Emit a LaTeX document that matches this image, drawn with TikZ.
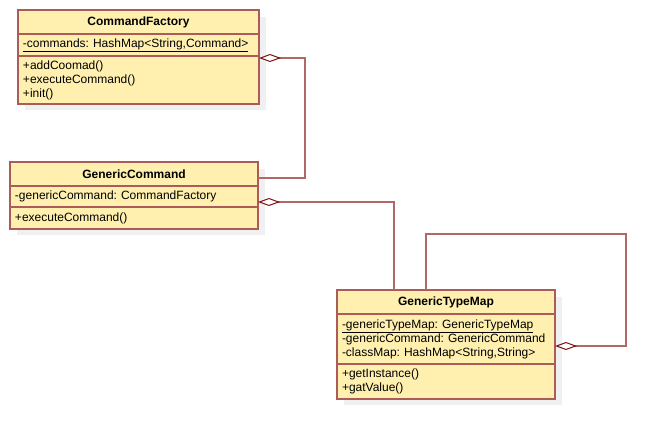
\documentclass[tikz,border=0pt]{standalone}
\usepackage{fontspec}
\setmainfont{Liberation Sans}
\usetikzlibrary{positioning, arrows.meta, fit, backgrounds}

\definecolor{umlfill}{RGB}{255,240,175}
\definecolor{umlborder}{RGB}{172,92,88}
\definecolor{umlline}{RGB}{176,104,104}
\definecolor{umldiamond}{RGB}{128,16,16}
\definecolor{umlshadow}{RGB}{240,240,240}

\begin{document}
\frenchspacing
\hyphenpenalty=10000
\fontsize{12}{14}\selectfont
\begin{tikzpicture}[
		x=1pt, y=-1pt,
		node distance=0pt,
		classhead/.style={draw=umlborder, line width=1.6pt, outer sep=0pt, fill=umlfill, font=\bfseries, minimum height=24pt, inner xsep=5pt, inner ysep=0pt, align=center},
		classpart/.style={draw=umlborder, line width=1.6pt, outer sep=0pt, fill=umlfill, minimum height=22pt, inner xsep=5pt, inner ysep=2pt, align=left},
		aggr/.style={draw=umlline, line width=1.5pt, {Diamond[open, length=22pt, width=8pt, color=umldiamond, line width=1pt]}-}
		]
		\useasboundingbox (0,0) rectangle (667,439);
		
		% ==========================================
		% CLASS: COMMANDFACTORY
		% ==========================================
		
		\node[classhead, text width=231pt, anchor=north west] (CFtitle) at (18,10) {CommandFactory};
		\node[classpart, text width=231pt, below=of CFtitle] (CFattr) {\underline{-commands: HashMap<String,Command>}};
		\node[classpart, text width=231pt, minimum height=48pt, below=of CFattr] (CFmeth) {
			+addCoomad() \\
			+executeCommand() \\
			+init()
		};
		
		% ==========================================
		% CLASS: GENERICCOMMAND
		% ==========================================
		
		\node[classhead, text width=238pt, anchor=north west] (GCtitle) at (10,162) {GenericCommand};
		\node[classpart, text width=238pt, minimum height=21pt, below=of GCtitle] (GCattr) {-genericCommand: CommandFactory};
		\node[classpart, text width=238pt, minimum height=22pt, below=of GCattr] (GCmeth) {+executeCommand()};
		
		% ==========================================
		% CLASS: GENERICTYPEMAP
		% ==========================================
		
		\node[classhead, text width=208pt, anchor=north west] (GTMtitle) at (337,290) {GenericTypeMap};
		\node[classpart, text width=208pt, minimum height=50pt, below=of GTMtitle] (GTMattr) {
			\underline{-genericTypeMap: GenericTypeMap} \\
			-genericCommand: GenericCommand \\
			-classMap: HashMap<String,String>
		};
		\node[classpart, text width=208pt, minimum height=35pt, below=of GTMattr] (GTMmeth) {
			+getInstance() \\
			+gatValue()
		};
		
		% Shadows
		\begin{scope}[on background layer]
			\fill[umlshadow] ([xshift=7pt, yshift=-7pt]CFtitle.north west) rectangle ([xshift=7pt, yshift=-6pt]CFmeth.south east);
			\fill[umlshadow] ([xshift=7pt, yshift=-7pt]GCtitle.north west) rectangle ([xshift=7pt, yshift=-6pt]GCmeth.south east);
			\fill[umlshadow] ([xshift=7pt, yshift=-7pt]GTMtitle.north west) rectangle ([xshift=7pt, yshift=-6pt]GTMmeth.south east);
		\end{scope}
		
		% ==========================================
		% AGGREGATIONS
		% ==========================================
		
		\draw[aggr] ([yshift=-2pt]CFmeth.north east) -- ++(46,0) |- ([yshift=-4pt]GCtitle.east);
		\draw[aggr] ([yshift=5pt]GCmeth.north east) -| ([xshift=57pt]GTMtitle.north west);
		\draw[aggr] ([yshift=18pt]GTMattr.south east) -- ++(71,0) |- ([xshift=89pt, yshift=56pt]GTMtitle.north west) -- ([xshift=89pt]GTMtitle.north west);
		
	\end{tikzpicture}
\end{document}
